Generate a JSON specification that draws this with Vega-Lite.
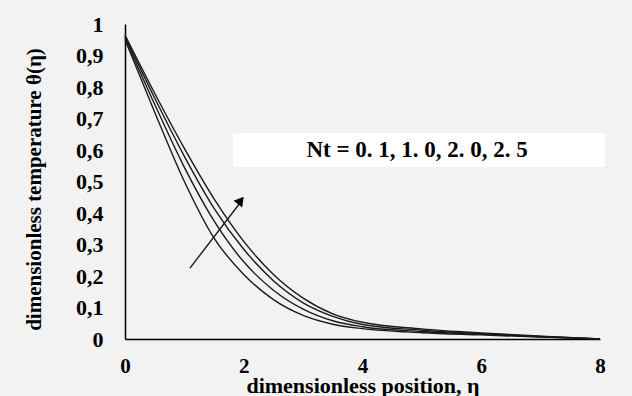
{
  "$schema": "https://vega.github.io/schema/vega-lite/v6.json",
  "autosize": "none",
  "width": 475,
  "height": 315,
  "padding": {"left": 125, "top": 24, "right": 32, "bottom": 57},
  "background": "#f2f2f2",
  "config": {
    "view": {"stroke": null},
    "font": "Liberation Serif",
    "locale": {"number": {"decimal": ",", "thousands": ".", "grouping": [3], "currency": ["", " €"]}},
    "axis": {"labelOverlap": false, "labelSeparation": 0},
    "axisY": {"labelOverlap": false},
    "axisQuantitative": {"labelOverlap": false}
  },
  "datasets": {
    "curves": [
      {"Nt": 0.1, "eta": 0, "theta": 0.95},
      {"Nt": 0.1, "eta": 0.5, "theta": 0.72},
      {"Nt": 0.1, "eta": 1.0, "theta": 0.5},
      {"Nt": 0.1, "eta": 1.5, "theta": 0.32},
      {"Nt": 0.1, "eta": 2.0, "theta": 0.205},
      {"Nt": 0.1, "eta": 2.5, "theta": 0.125},
      {"Nt": 0.1, "eta": 3.0, "theta": 0.075},
      {"Nt": 0.1, "eta": 3.5, "theta": 0.047},
      {"Nt": 0.1, "eta": 4.0, "theta": 0.033},
      {"Nt": 0.1, "eta": 5.0, "theta": 0.02},
      {"Nt": 0.1, "eta": 6.0, "theta": 0.013},
      {"Nt": 0.1, "eta": 7.0, "theta": 0.006},
      {"Nt": 0.1, "eta": 8.0, "theta": 0.0},
      {"Nt": 1.0, "eta": 0, "theta": 0.955},
      {"Nt": 1.0, "eta": 0.5, "theta": 0.745},
      {"Nt": 1.0, "eta": 1.0, "theta": 0.545},
      {"Nt": 1.0, "eta": 1.5, "theta": 0.375},
      {"Nt": 1.0, "eta": 2.0, "theta": 0.245},
      {"Nt": 1.0, "eta": 2.5, "theta": 0.155},
      {"Nt": 1.0, "eta": 3.0, "theta": 0.095},
      {"Nt": 1.0, "eta": 3.5, "theta": 0.058},
      {"Nt": 1.0, "eta": 4.0, "theta": 0.039},
      {"Nt": 1.0, "eta": 5.0, "theta": 0.024},
      {"Nt": 1.0, "eta": 6.0, "theta": 0.015},
      {"Nt": 1.0, "eta": 7.0, "theta": 0.007},
      {"Nt": 1.0, "eta": 8.0, "theta": 0.0},
      {"Nt": 2.0, "eta": 0, "theta": 0.96},
      {"Nt": 2.0, "eta": 0.5, "theta": 0.765},
      {"Nt": 2.0, "eta": 1.0, "theta": 0.58},
      {"Nt": 2.0, "eta": 1.5, "theta": 0.415},
      {"Nt": 2.0, "eta": 2.0, "theta": 0.285},
      {"Nt": 2.0, "eta": 2.5, "theta": 0.185},
      {"Nt": 2.0, "eta": 3.0, "theta": 0.115},
      {"Nt": 2.0, "eta": 3.5, "theta": 0.072},
      {"Nt": 2.0, "eta": 4.0, "theta": 0.046},
      {"Nt": 2.0, "eta": 5.0, "theta": 0.028},
      {"Nt": 2.0, "eta": 6.0, "theta": 0.017},
      {"Nt": 2.0, "eta": 7.0, "theta": 0.008},
      {"Nt": 2.0, "eta": 8.0, "theta": 0.0},
      {"Nt": 2.5, "eta": 0, "theta": 0.965},
      {"Nt": 2.5, "eta": 0.5, "theta": 0.78},
      {"Nt": 2.5, "eta": 1.0, "theta": 0.605},
      {"Nt": 2.5, "eta": 1.5, "theta": 0.445},
      {"Nt": 2.5, "eta": 2.0, "theta": 0.31},
      {"Nt": 2.5, "eta": 2.5, "theta": 0.205},
      {"Nt": 2.5, "eta": 3.0, "theta": 0.13},
      {"Nt": 2.5, "eta": 3.5, "theta": 0.08},
      {"Nt": 2.5, "eta": 4.0, "theta": 0.053},
      {"Nt": 2.5, "eta": 5.0, "theta": 0.032},
      {"Nt": 2.5, "eta": 6.0, "theta": 0.019},
      {"Nt": 2.5, "eta": 7.0, "theta": 0.009},
      {"Nt": 2.5, "eta": 8.0, "theta": 0.0}
    ],
    "box": [{"x1": 1.82, "x2": 8.08, "y1": 0.546, "y2": 0.654, "label": "Nt = 0. 1, 1. 0, 2. 0, 2. 5", "tx": 4.92, "ty": 0.6}],
    "arrow": [{"x1": 1.094, "y1": 0.225, "x2": 1.93, "y2": 0.43, "hx": 1.95, "hy": 0.44}]
  },
  "layer": [
    {
      "data": {"name": "box"},
      "mark": {"type": "rect", "fill": "white", "clip": false},
      "encoding": {
        "x": {
          "field": "x1", "type": "quantitative",
          "scale": {"domain": [0, 8], "nice": false},
          "axis": {
            "title": "dimensionless position, η",
            "values": [0, 2, 4, 6, 8],
            "format": "d",
            "labelOverlap": false,
            "grid": false, "ticks": false,
            "domainColor": "black", "domainWidth": 1.5,
            "labelFont": "Liberation Serif", "labelFontWeight": "bold", "labelFontSize": 21, "labelColor": "black",
            "labelPadding": 16, "labelFlush": false,
            "titleFont": "Liberation Serif", "titleFontWeight": "bold", "titleFontSize": 22, "titleColor": "black",
            "titleBaseline": "alphabetic", "titleY": 53
          }
        },
        "x2": {"field": "x2"},
        "y": {
          "field": "y1", "type": "quantitative",
          "scale": {"domain": [0, 1], "nice": false},
          "axis": {
            "title": "dimensionless temperature θ(η)",
            "tickCount": 10,
            "format": ".1~f",
            "labelOverlap": false,
            "labelSeparation": 0,
            "grid": false, "ticks": false,
            "domainColor": "black", "domainWidth": 1.5,
            "labelFont": "Liberation Serif", "labelFontWeight": "bold", "labelFontSize": 22, "labelColor": "black",
            "labelPadding": 22, "labelFlush": false,
            "titleFont": "Liberation Serif", "titleFontWeight": "bold", "titleFontSize": 21, "titleColor": "black",
            "titleBaseline": "alphabetic", "titleX": -85, "titleY": 165
          }
        },
        "y2": {"field": "y2"}
      }
    },
    {
      "data": {"name": "box"},
      "mark": {"type": "text", "font": "Liberation Serif", "fontWeight": "bold", "fontSize": 23, "color": "black", "align": "center", "baseline": "middle"},
      "encoding": {
        "x": {"field": "tx", "type": "quantitative"},
        "y": {"field": "ty", "type": "quantitative"},
        "text": {"field": "label"}
      }
    },
    {
      "data": {"name": "curves"},
      "mark": {"type": "line", "interpolate": "monotone", "color": "#1a1a1a", "strokeWidth": 1.4},
      "encoding": {
        "x": {"field": "eta", "type": "quantitative"},
        "y": {"field": "theta", "type": "quantitative"},
        "detail": {"field": "Nt", "type": "nominal"}
      }
    },
    {
      "data": {"name": "arrow"},
      "mark": {"type": "rule", "color": "#1a1a1a", "strokeWidth": 1.4},
      "encoding": {
        "x": {"field": "x1", "type": "quantitative"},
        "y": {"field": "y1", "type": "quantitative"},
        "x2": {"field": "x2"},
        "y2": {"field": "y2"}
      }
    },
    {
      "data": {"name": "arrow"},
      "mark": {"type": "point", "shape": "triangle-up", "filled": true, "color": "black", "size": 120, "angle": 38, "opacity": 1},
      "encoding": {
        "x": {"field": "hx", "type": "quantitative"},
        "y": {"field": "hy", "type": "quantitative"}
      }
    }
  ]
}
